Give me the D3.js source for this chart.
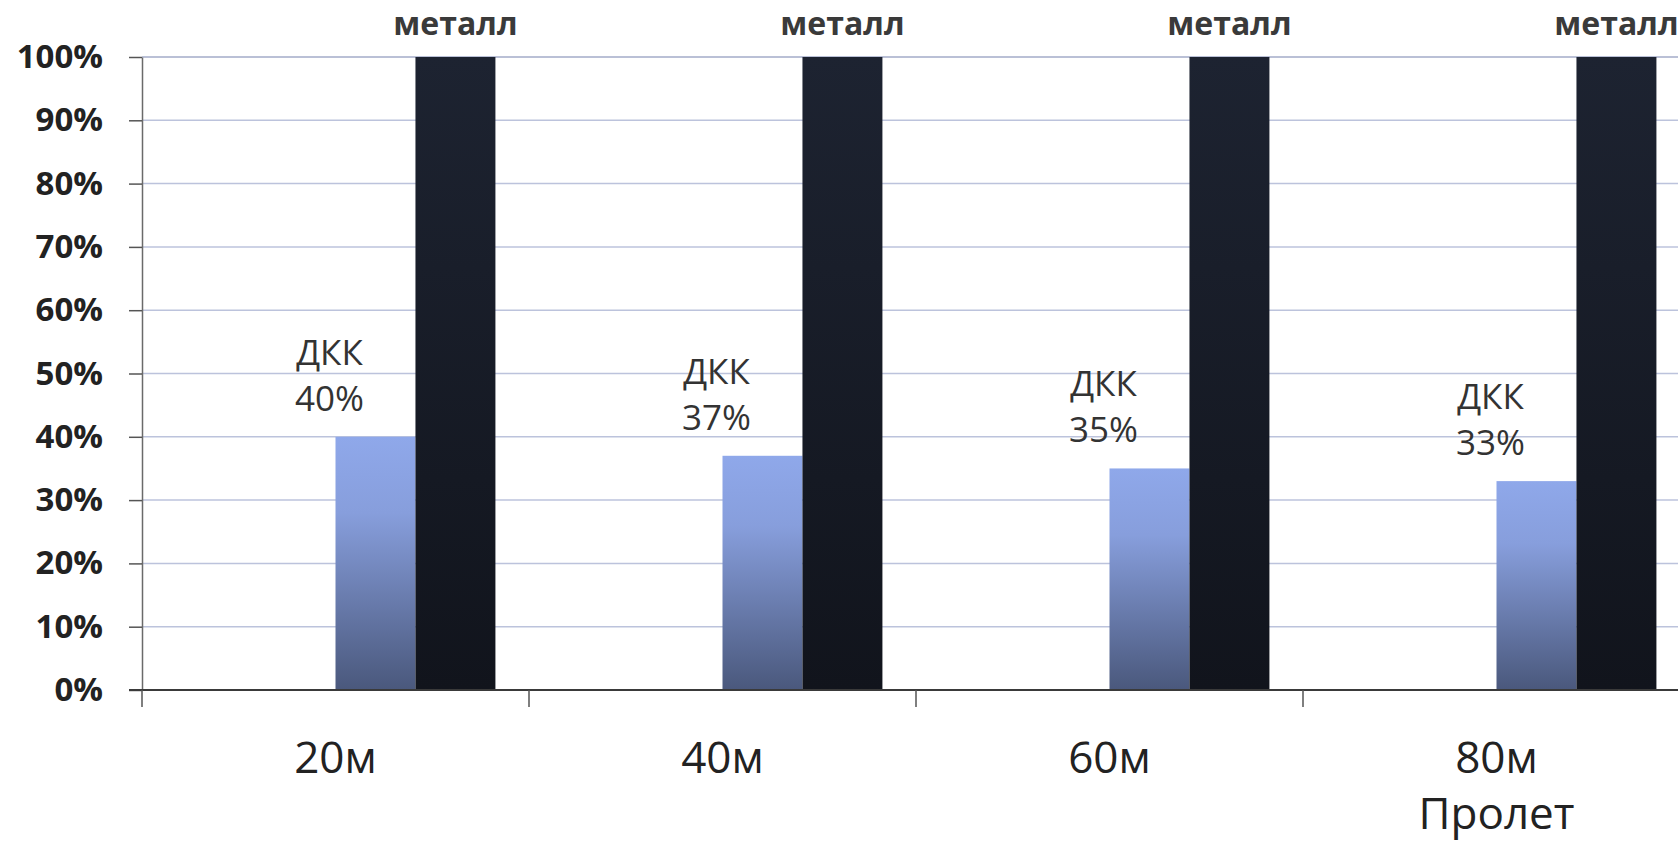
<!DOCTYPE html>
<html>
<head>
<meta charset="utf-8">
<script src="https://cdn.jsdelivr.net/npm/d3@7"></script>
<style>
  html, body { margin: 0; padding: 0; background: #ffffff; overflow: hidden; }
  svg { display: block; }
</style>
</head>
<body>
<svg id="chart" width="1678" height="842"></svg>
<script>
// ---- data ----
const categories = ["20м", "40м", "60м", "80м"];
const seriesSlots = ["ряд 1", "ряд 2", "ДКК", "металл"]; // first two series are empty
const dkkValues = [0.40, 0.37, 0.35, 0.33];
const metalValues = [1.00, 1.00, 1.00, 1.00];
const yTickValues = [0, 0.1, 0.2, 0.3, 0.4, 0.5, 0.6, 0.7, 0.8, 0.9, 1.0];
const dkkName = "ДКК";
const metalName = "металл";
const axisTitle = "Пролет";

// ---- layout ----
const W = 1678, H = 842;
const mLeft = 142, plotRight = 1690, mTop = 57, mBottom = 690;
const FONT = "'Open Sans', 'DejaVu Sans', sans-serif";

const svg = d3.select("#chart");

const x0 = d3.scaleBand().domain(categories).range([mLeft, plotRight]).paddingInner(0).paddingOuter(0);
const x1 = d3.scaleBand().domain(seriesSlots).range([0, x0.bandwidth()]).paddingInner(0).paddingOuter(0.42);
const y = d3.scaleLinear().domain([0, 1]).range([mBottom, mTop]);

// gradients
const defs = svg.append("defs");
const gLight = defs.append("linearGradient").attr("id", "gLight").attr("x1", 0).attr("y1", 0).attr("x2", 0).attr("y2", 1);
gLight.append("stop").attr("offset", "0%").attr("stop-color", "#8fa8ea");
gLight.append("stop").attr("offset", "30%").attr("stop-color", "#879edc");
gLight.append("stop").attr("offset", "100%").attr("stop-color", "#4a587c");
const gDark = defs.append("linearGradient").attr("id", "gDark").attr("x1", 0).attr("y1", 0).attr("x2", 0).attr("y2", 1);
gDark.append("stop").attr("offset", "0%").attr("stop-color", "#1d2331");
gDark.append("stop").attr("offset", "100%").attr("stop-color", "#11141c");

// gridlines
svg.append("g")
  .selectAll("line")
  .data(yTickValues.filter(d => d > 0))
  .join("line")
  .attr("x1", mLeft).attr("x2", W)
  .attr("y1", d => y(d)).attr("y2", d => y(d))
  .attr("stroke", d => d === 1 ? "#a3abc8" : "#bcc3dc")
  .attr("stroke-width", 1.5);

// y axis
const yAxis = svg.append("g")
  .attr("transform", `translate(${mLeft},0)`)
  .call(d3.axisLeft(y).tickValues(yTickValues).tickFormat(d3.format(".0%")).tickSize(13).tickPadding(26).tickSizeOuter(0));
yAxis.select(".domain").attr("stroke", "#6a6a6a").attr("stroke-width", 1.5);
yAxis.selectAll(".tick line").attr("stroke", "#555").attr("stroke-width", 1.5);
yAxis.selectAll(".tick text")
  .attr("font-family", FONT).attr("font-size", 33).attr("font-weight", 700).attr("fill", "#222");

// bars
const groups = svg.append("g")
  .selectAll("g")
  .data(categories.map((c, i) => ({ c, dkk: dkkValues[i], metal: metalValues[i] })))
  .join("g")
  .attr("transform", d => `translate(${x0(d.c)},0)`);

groups.append("rect")
  .attr("x", x1(dkkName)).attr("width", x1.bandwidth())
  .attr("y", d => y(d.dkk)).attr("height", d => y(0) - y(d.dkk))
  .attr("fill", "url(#gLight)");

groups.append("rect")
  .attr("x", x1(metalName)).attr("width", x1.bandwidth())
  .attr("y", d => y(d.metal)).attr("height", d => y(0) - y(d.metal))
  .attr("fill", "url(#gDark)");

// ДКК labels
const lbl = groups.append("text")
  .attr("text-anchor", "middle")
  .attr("font-family", FONT).attr("font-size", 35).attr("fill", "#333");
lbl.append("tspan")
  .attr("x", x1(dkkName) - 6)
  .attr("y", d => y(d.dkk) - 72)
  .text(dkkName);
lbl.append("tspan")
  .attr("x", x1(dkkName) - 6)
  .attr("y", d => y(d.dkk) - 26)
  .text(d => d3.format(".0%")(d.dkk));

// металл labels
groups.append("text")
  .attr("text-anchor", "middle")
  .attr("x", x1(metalName) + x1.bandwidth() / 2)
  .attr("y", d => y(d.metal) - 22)
  .attr("font-family", FONT).attr("font-size", 32).attr("font-weight", 700).attr("fill", "#3a3a3a")
  .text(metalName);

// x axis
const xAxis = svg.append("g")
  .attr("transform", `translate(0,${mBottom})`);
xAxis.append("line")
  .attr("x1", mLeft - 13).attr("x2", W)
  .attr("y1", 0).attr("y2", 0)
  .attr("stroke", "#3a3a3a").attr("stroke-width", 1.8);
xAxis.selectAll("line.tk")
  .data(categories)
  .join("line")
  .attr("class", "tk")
  .attr("x1", d => x0(d)).attr("x2", d => x0(d))
  .attr("y1", 0).attr("y2", 17)
  .attr("stroke", "#555").attr("stroke-width", 1.5);
xAxis.selectAll("text.cat")
  .data(categories)
  .join("text")
  .attr("class", "cat")
  .attr("x", d => x0(d) + x0.bandwidth() / 2)
  .attr("y", 83)
  .attr("text-anchor", "middle")
  .attr("font-family", FONT).attr("font-size", 44).attr("fill", "#222")
  .text(d => d);

// axis title under the last category
svg.append("text")
  .attr("x", x0(categories[categories.length - 1]) + x0.bandwidth() / 2)
  .attr("y", 829)
  .attr("text-anchor", "middle")
  .attr("font-family", FONT).attr("font-size", 44).attr("fill", "#222")
  .text(axisTitle);
</script>
</body>
</html>
